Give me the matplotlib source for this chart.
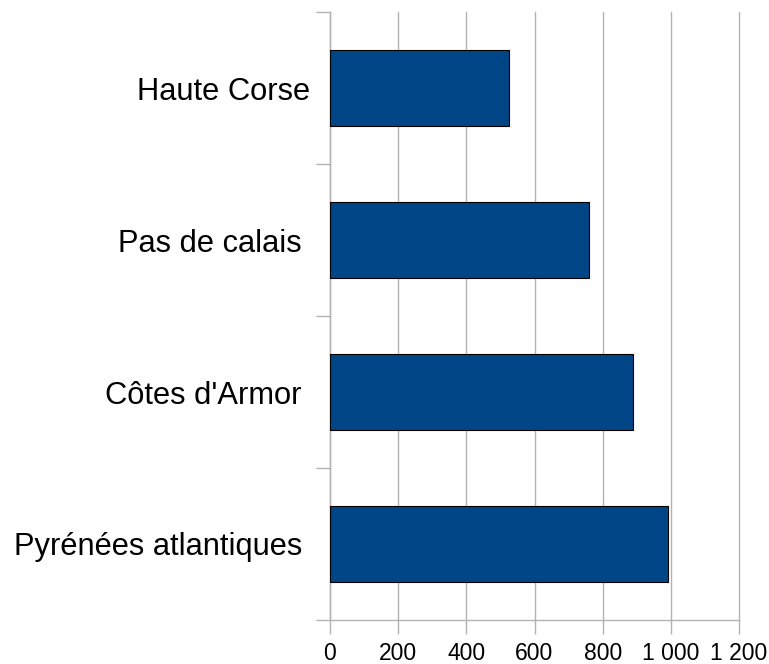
import numpy as np
import matplotlib
matplotlib.use("Agg")
import matplotlib.pyplot as plt
from matplotlib.ticker import FuncFormatter, FixedLocator

# data (top to bottom)
departements = ["Haute Corse", "Pas de calais ", "Côtes d'Armor ", "Pyrénées atlantiques "]
valeurs = [525, 759, 890, 993]
x_ticks = [0, 200, 400, 600, 800, 1000, 1200]

plt.rcParams['font.family'] = ['Liberation Sans', 'DejaVu Sans']
grid_col = "#b3b3b3"

fig = plt.figure(figsize=(7.69, 6.64), dpi=100)
ax = fig.add_axes([330/769, 1-620/664, 409/769, 608/664])

pos = np.arange(len(departements))
ax.barh(pos, valeurs, height=0.5, color="#004586", edgecolor="#000000", linewidth=0.8, zorder=3)

ax.set_xlim(0, 1200)
ax.set_ylim(len(departements) - 0.5, -0.5)

ax.xaxis.set_major_locator(FixedLocator(x_ticks))
ax.xaxis.set_major_formatter(FuncFormatter(lambda v, p: f"{int(v):,}".replace(",", " ")))
ax.set_yticks(pos)
ax.set_yticklabels(departements)
ax.yaxis.set_minor_locator(FixedLocator(np.arange(-0.5, len(departements), 1)))

ax.tick_params(axis="y", which="major", length=0, pad=14, labelsize=22.2, labelcolor="black")
ax.tick_params(axis="y", which="minor", length=10, width=1, color=grid_col, direction="out")
ax.tick_params(axis="x", length=10, width=1, color=grid_col, direction="out", pad=6, labelsize=16.5)

ax.grid(axis="x", color=grid_col, linewidth=1, zorder=0)
for gl in ax.get_xgridlines():
    gl.set_clip_on(False)
ax.set_axisbelow(True)
for s in ["top", "right"]:
    ax.spines[s].set_visible(False)
for s in ["left", "bottom"]:
    ax.spines[s].set_color(grid_col)
    ax.spines[s].set_linewidth(1)

plt.savefig("out.png", dpi=100)
